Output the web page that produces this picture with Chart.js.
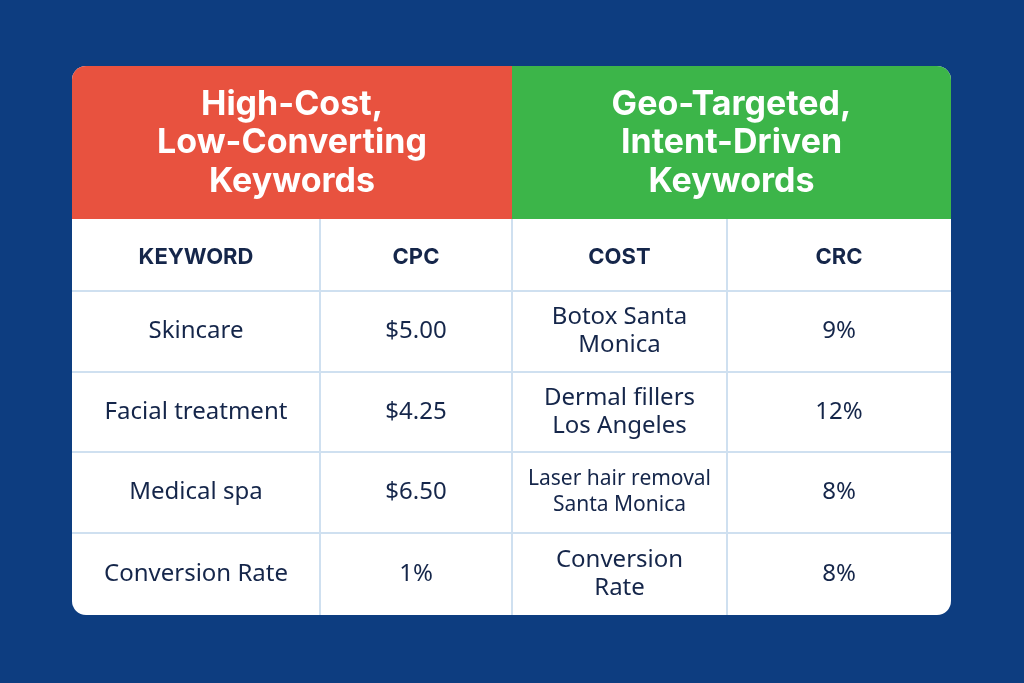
<!DOCTYPE html>
<html><head><meta charset="utf-8">
<script src="https://cdn.jsdelivr.net/npm/chart.js@4"></script>
<style>html,body{margin:0;padding:0;background:#0d3d80;}canvas{display:block}</style>
</head><body>
<canvas id="c" width="1024" height="683"></canvas>
<script>
const groupTitles = [["High-Cost,","Low-Converting","Keywords"],["Geo-Targeted,","Intent-Driven","Keywords"]];
const columnHeaders = ["KEYWORD","CPC","COST","CRC"];
const keywordsA = [["Skincare"],["Facial treatment"],["Medical spa"],["Conversion Rate"]];
const cpcValues = ["$5.00","$4.25","$6.50","1%"];
const keywordsB = [["Botox Santa","Monica"],["Dermal fillers","Los Angeles"],["Laser hair removal","Santa Monica"],["Conversion","Rate"]];
const crcValues = ["9%","12%","8%","8%"];

const colEdges=[72,320,512,727,951];
const rowEdges=[219,291,372,452,533,615];
const cardTop=66, L=72, R=951, B=615, rad=14;

function rr(ctx,x,y,w,h,r){ctx.beginPath();ctx.moveTo(x+r,y);ctx.arcTo(x+w,y,x+w,y+h,r);ctx.arcTo(x+w,y+h,x,y+h,r);ctx.arcTo(x,y+h,x,y,r);ctx.arcTo(x,y,x+w,y,r);ctx.closePath();}

const tablePlugin={id:'table',beforeDraw(chart){
 const ctx=chart.ctx;ctx.save();
 ctx.fillStyle='#0d3d80';ctx.fillRect(0,0,1024,683);
 rr(ctx,L,cardTop,R-L,B-cardTop,rad);ctx.save();ctx.clip();
 ctx.fillStyle='#ffffff';ctx.fillRect(L,cardTop,R-L,B-cardTop);
 ctx.fillStyle='#e8523f';ctx.fillRect(L,cardTop,512-L,219-cardTop);
 ctx.fillStyle='#3cb549';ctx.fillRect(512,cardTop,R-512,219-cardTop);
 ctx.restore();
 ctx.textAlign='center';ctx.textBaseline='middle';
 ctx.fillStyle='#ffffff';ctx.font='bold 34px Inter, "Liberation Sans", sans-serif';
 const hy=[105,143,182];
 groupTitles.forEach((g,i)=>{const cx=i==0?(L+512)/2:(512+R)/2;g.forEach((t,j)=>ctx.fillText(t,cx,hy[j]));});
 ctx.strokeStyle='#cfe0f0';ctx.lineWidth=2;
 for(let i=1;i<rowEdges.length-1;i++){ctx.beginPath();ctx.moveTo(L,rowEdges[i]);ctx.lineTo(R,rowEdges[i]);ctx.stroke();}
 for(let i=1;i<colEdges.length-1;i++){ctx.beginPath();ctx.moveTo(colEdges[i],219);ctx.lineTo(colEdges[i],B);ctx.stroke();}
 const cx=i=>(colEdges[i]+colEdges[i+1])/2, cy=r=>(rowEdges[r]+rowEdges[r+1])/2;
 ctx.fillStyle='#15264a';ctx.font='bold 22px Inter, "Liberation Sans", sans-serif';
 columnHeaders.forEach((h,i)=>ctx.fillText(h,cx(i),cy(0)+2));
 const cols=[keywordsA,cpcValues.map(v=>[v]),keywordsB,crcValues.map(v=>[v])];
 cols.forEach((col,i)=>col.forEach((lines,r)=>{
  const small=i==2&&lines[0].length>15;
  ctx.font=(small?21:24)+'px "Noto Sans", "Open Sans", sans-serif';ctx.fillStyle='#15264a';
  const lh=small?26:28;
  lines.forEach((t,k)=>ctx.fillText(t,cx(i),cy(r+1)+(k-(lines.length-1)/2)*lh));
 }));
 ctx.restore();
}};
new Chart(document.getElementById('c'),{type:'scatter',data:{datasets:[{data:[]}]},
 options:{responsive:false,animation:false,plugins:{legend:{display:false},tooltip:{enabled:false}},
 scales:{x:{display:false},y:{display:false}}},plugins:[tablePlugin]});
</script></body></html>
